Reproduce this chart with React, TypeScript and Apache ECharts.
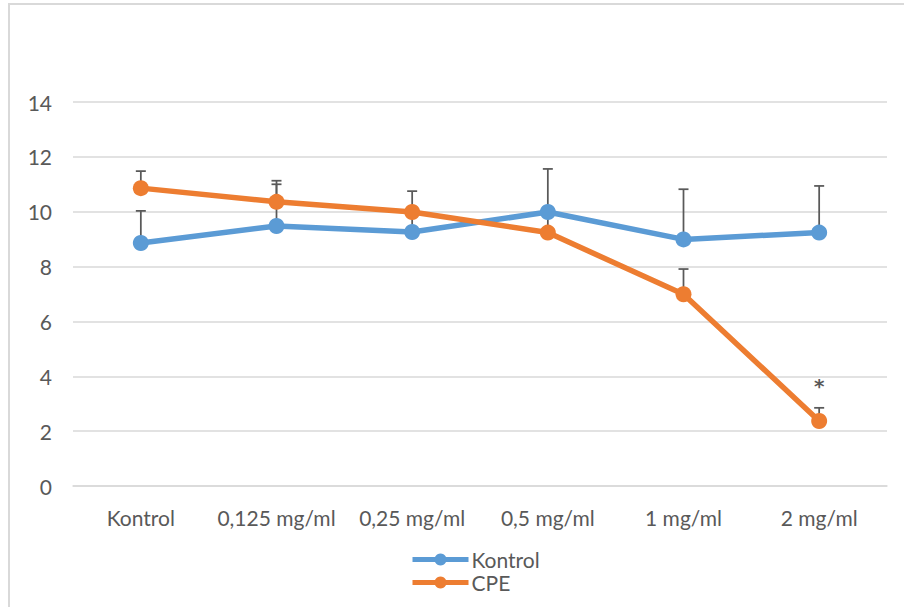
import React, { useEffect, useRef } from "react";
import * as echarts from "echarts";

const categories = ["Kontrol", "0,125 mg/ml", "0,25 mg/ml", "0,5 mg/ml", "1 mg/ml", "2 mg/ml"];
const yTicks = [0, 2, 4, 6, 8, 10, 12, 14];
const kontrolValues = [8.86, 9.48, 9.26, 9.99, 8.99, 9.24];
const kontrolErrorTop = [10.03, 11.0, 10.1, 11.56, 10.82, 10.94];
const cpeValues = [10.86, 10.36, 9.99, 9.24, 6.99, 2.37];
const cpeErrorTop = [11.48, 11.13, 10.75, 9.9, 7.91, 2.85];
const cpeSignificance = ["", "", "", "", "", "*"];

const BLUE = "#5B9BD5";
const ORANGE = "#ED7D31";
const TEXT = "#595959";
const GRID = "#D9D9D9";
const FONT = "Lato";

function errorSeries(name: string, values: number[], tops: number[], marks: string[] | null) {
  return {
    type: "custom",
    name: name + "-err",
    z: 1,
    silent: true,
    data: values.map((v, i) => [i, v, tops[i]]),
    encode: { x: 0, y: [1, 2] },
    renderItem: (params: any, api: any) => {
      const i = api.value(0);
      const p0 = api.coord([i, api.value(1)]);
      const p1 = api.coord([i, api.value(2)]);
      const half = 5;
      const children: any[] = [
        {
          type: "line",
          shape: { x1: p0[0], y1: p0[1], x2: p1[0], y2: p1[1] },
          style: { stroke: TEXT, lineWidth: 1.75 },
        },
        {
          type: "line",
          shape: { x1: p1[0] - half, y1: p1[1], x2: p1[0] + half, y2: p1[1] },
          style: { stroke: TEXT, lineWidth: 1.75 },
        },
      ];
      const m = marks ? marks[params.dataIndex] : "";
      if (m) {
        children.push({
          type: "text",
          style: {
            x: p1[0],
            y: p1[1] - 22,
            text: m,
            fill: TEXT,
            font: `bold 20px "DejaVu Sans"`,
            align: "center",
            verticalAlign: "middle",
          },
        });
      }
      return { type: "group", children };
    },
  };
}

export default function App() {
  const ref = useRef<HTMLDivElement>(null);
  useEffect(() => {
    if (!ref.current) return;
    const chart = echarts.init(ref.current, undefined, { renderer: "svg" });
    chart.setOption({
      animation: false,
      backgroundColor: "#fff",
      textStyle: { fontFamily: FONT },
      graphic: [
        {
          type: "rect",
          silent: true,
          z: 0,
          shape: { x: 9, y: 4, width: 1000, height: 700 },
          style: { fill: "none", stroke: GRID, lineWidth: 2 },
        },
      ],
      grid: { left: 73, right: 17, top: 102, bottom: 121, containLabel: false },
      xAxis: {
        type: "category",
        data: categories,
        boundaryGap: true,
        axisLine: { show: true, lineStyle: { color: GRID, width: 1.5 } },
        axisTick: { show: false },
        axisLabel: { color: TEXT, fontSize: 21, fontFamily: FONT, margin: 21, interval: 0 },
      },
      yAxis: {
        type: "value",
        min: yTicks[0],
        max: yTicks[yTicks.length - 1],
        interval: 2,
        axisLine: { show: false },
        axisTick: { show: false },
        splitLine: { lineStyle: { color: GRID, width: 1.5 } },
        axisLabel: { color: TEXT, fontSize: 21, fontFamily: FONT, margin: 21 },
      },
      legend: {
        orient: "vertical",
        left: 405,
        top: 544,
        itemWidth: 56,
        itemHeight: 15,
        itemGap: 2,
        lineStyle: { width: 5 },
        textStyle: { color: TEXT, fontSize: 21, fontFamily: FONT, padding: [0, 0, 0, -2] },
        data: ["Kontrol", "CPE"],
      },
      series: [
        errorSeries("Kontrol", kontrolValues, kontrolErrorTop, null),
        errorSeries("CPE", cpeValues, cpeErrorTop, cpeSignificance),
        {
          name: "Kontrol",
          type: "line",
          z: 3,
          data: kontrolValues,
          symbol: "circle",
          symbolSize: 16,
          itemStyle: { color: BLUE },
          lineStyle: { color: BLUE, width: 5.5 },
        },
        {
          name: "CPE",
          type: "line",
          z: 4,
          data: cpeValues,
          symbol: "circle",
          symbolSize: 16,
          itemStyle: { color: ORANGE },
          lineStyle: { color: ORANGE, width: 5.5 },
        },
      ],
    });
    return () => chart.dispose();
  }, []);
  return (
    <div
      ref={ref}
      style={{ position: "fixed", left: 0, top: 0, width: 904, height: 607 }}
    />
  );
}
